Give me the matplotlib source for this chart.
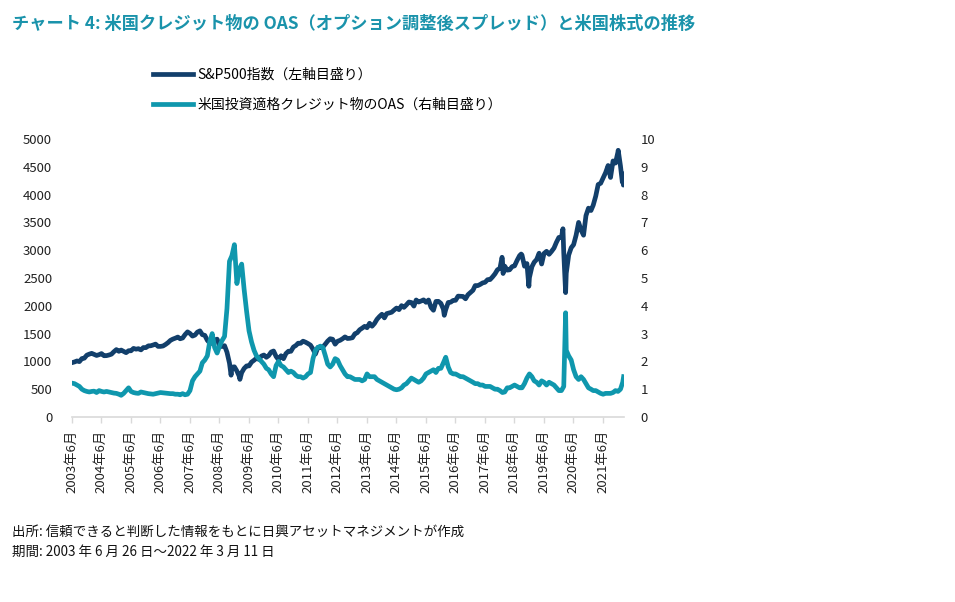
import numpy as np
import pandas as pd
import matplotlib
matplotlib.use("Agg")
import matplotlib.pyplot as plt

plt.rcParams['font.family'] = ['Noto Sans CJK JP', 'DejaVu Sans']

# S&P500 month-end values, Jul 2003 - Feb 2022
spx_monthly = [
    990, 1008, 996, 1051, 1058, 1112,                                   # 2003
    1131, 1145, 1126, 1107, 1121, 1141, 1102, 1104, 1115, 1130, 1174, 1212,  # 2004
    1181, 1204, 1181, 1157, 1192, 1191, 1234, 1220, 1229, 1207, 1249, 1248,  # 2005
    1280, 1281, 1295, 1311, 1270, 1270, 1277, 1304, 1336, 1378, 1401, 1418,  # 2006
    1438, 1407, 1421, 1482, 1531, 1503, 1455, 1474, 1527, 1549, 1481, 1468,  # 2007
    1379, 1331, 1323, 1386, 1400, 1280, 1267, 1283, 1166, 969, 896, 903,     # 2008
    826, 735, 798, 873, 919, 919, 987, 1021, 1057, 1036, 1096, 1115,         # 2009
    1074, 1104, 1169, 1187, 1089, 1031, 1102, 1049, 1141, 1183, 1181, 1258,  # 2010
    1286, 1327, 1326, 1364, 1345, 1321, 1292, 1219, 1131, 1253, 1247, 1258,  # 2011
    1312, 1366, 1408, 1398, 1310, 1362, 1379, 1407, 1441, 1412, 1416, 1426,  # 2012
    1498, 1515, 1569, 1598, 1631, 1606, 1686, 1633, 1682, 1757, 1806, 1848,  # 2013
    1783, 1859, 1872, 1884, 1924, 1960, 1931, 2003, 1972, 2018, 2068, 2059,  # 2014
    1995, 2105, 2068, 2086, 2107, 2063, 2104, 1972, 1920, 2079, 2080, 2044,  # 2015
    1940, 1932, 2060, 2065, 2097, 2099, 2174, 2171, 2168, 2126, 2199, 2239,  # 2016
    2279, 2364, 2363, 2384, 2412, 2423, 2470, 2472, 2519, 2575, 2648, 2674,  # 2017
    2824, 2714, 2641, 2648, 2705, 2718, 2816, 2902, 2914, 2712, 2760, 2507,  # 2018
    2704, 2784, 2834, 2946, 2752, 2942, 2980, 2926, 2977, 3038, 3141, 3231,  # 2019
    3226, 2954, 2585, 2912, 3044, 3100, 3271, 3500, 3363, 3270, 3622, 3756,  # 2020
    3714, 3811, 3973, 4181, 4204, 4298, 4395, 4523, 4308, 4605, 4567, 4766,  # 2021
    4516, 4374,                                                             # 2022
]
# intra-month highs / lows and the end points
spx_extra = {
    "2003-06-26": 976, "2008-11-20": 752, "2009-03-09": 677,
    "2016-02-11": 1829, "2018-01-26": 2873, "2018-02-08": 2581,
    "2018-09-20": 2931, "2018-12-24": 2351, "2020-02-19": 3386,
    "2020-03-23": 2237, "2022-01-03": 4797, "2022-02-23": 4225,
    "2022-03-08": 4171, "2022-03-11": 4204,
}

# US investment grade OAS (%), month-end, Jul 2003 - Feb 2022
oas_monthly = [
    1.20, 1.15, 1.10, 1.00, 0.95, 0.92,                                      # 2003
    0.90, 0.92, 0.93, 0.88, 0.95, 0.92, 0.90, 0.92, 0.90, 0.88, 0.86, 0.85,  # 2004
    0.82, 0.78, 0.85, 0.95, 1.05, 0.92, 0.88, 0.86, 0.85, 0.90, 0.88, 0.86,  # 2005
    0.84, 0.83, 0.82, 0.84, 0.86, 0.88, 0.87, 0.86, 0.85, 0.84, 0.84, 0.82,  # 2006
    0.82, 0.80, 0.84, 0.80, 0.82, 0.95, 1.30, 1.45, 1.55, 1.65, 1.95, 2.05,  # 2007
    2.20, 2.70, 3.00, 2.50, 2.30, 2.55, 2.75, 2.90, 3.90, 5.60, 5.80, 6.20,  # 2008
    4.80, 5.30, 5.50, 4.60, 3.80, 3.10, 2.70, 2.40, 2.20, 2.10, 2.00, 1.90,  # 2009
    1.75, 1.70, 1.55, 1.45, 1.85, 2.00, 1.85, 1.80, 1.70, 1.60, 1.65, 1.60,  # 2010
    1.50, 1.45, 1.45, 1.40, 1.45, 1.55, 1.60, 2.10, 2.40, 2.50, 2.55, 2.50,  # 2011
    2.20, 1.90, 1.80, 1.90, 2.10, 2.05, 1.85, 1.70, 1.55, 1.45, 1.45, 1.40,  # 2012
    1.35, 1.35, 1.35, 1.30, 1.35, 1.55, 1.45, 1.45, 1.45, 1.35, 1.30, 1.25,  # 2013
    1.20, 1.15, 1.10, 1.05, 1.00, 0.98, 1.00, 1.05, 1.15, 1.20, 1.30, 1.40,  # 2014
    1.35, 1.30, 1.25, 1.30, 1.40, 1.55, 1.60, 1.65, 1.70, 1.60, 1.75, 1.75,  # 2015
    1.95, 2.15, 1.80, 1.60, 1.55, 1.55, 1.50, 1.45, 1.45, 1.40, 1.35, 1.30,  # 2016
    1.25, 1.20, 1.20, 1.15, 1.15, 1.10, 1.10, 1.10, 1.05, 1.00, 1.00, 0.95,  # 2017
    0.88, 0.90, 1.05, 1.05, 1.10, 1.15, 1.10, 1.05, 1.05, 1.20, 1.40, 1.55,  # 2018
    1.45, 1.30, 1.25, 1.15, 1.30, 1.25, 1.15, 1.25, 1.20, 1.15, 1.05, 0.95,  # 2019
    0.95, 1.10, 2.40, 2.20, 2.05, 1.70, 1.45, 1.35, 1.45, 1.35, 1.20, 1.05,  # 2020
    1.00, 0.95, 0.95, 0.90, 0.85, 0.82, 0.85, 0.85, 0.85, 0.88, 0.95, 0.92,  # 2021
    1.00, 1.25,                                                              # 2022
]
oas_extra = {
    "2003-06-26": 1.22, "2020-03-23": 3.75, "2022-03-11": 1.45,
}

tick_years = list(range(2003, 2022))

navy = "#123f6b"
teal = "#0f97ad"

month_ends = pd.date_range("2003-07-01", "2022-02-28", freq="ME")

spx = pd.Series(spx_monthly, index=month_ends)
spx = pd.concat([spx, pd.Series(spx_extra).rename(index=pd.Timestamp)]).sort_index()
oas = pd.Series(oas_monthly, index=month_ends)
oas = pd.concat([oas, pd.Series(oas_extra).rename(index=pd.Timestamp)]).sort_index()

fig = plt.figure(figsize=(9.55, 6.02), dpi=100)
ax = fig.add_axes([0.075, 0.3073, 0.578, 0.4618])
ax2 = ax.twinx()

l1, = ax.plot(spx.index, spx.values, color=navy, lw=3.4, solid_joinstyle="round")
l2, = ax2.plot(oas.index, oas.values, color=teal, lw=3.4, solid_joinstyle="round")

ax.set_ylim(0, 5000)
ax.set_yticks(np.arange(0, 5001, 500))
ax2.set_ylim(0, 10)
ax2.set_yticks(np.arange(0, 11, 1))
ax.set_xlim(pd.Timestamp("2003-06-26"), pd.Timestamp("2022-03-11"))

ticks = [pd.Timestamp(f"{y}-06-26") for y in tick_years]
ax.set_xticks(ticks)
ax.set_xticklabels([f"{y}年6月" for y in tick_years], rotation=90, fontsize=9.5, color="#222222")

for a in (ax, ax2):
    for s in ["top", "left", "right"]:
        a.spines[s].set_visible(False)
    a.spines["bottom"].set_color("#d9d9d9")
    a.spines["bottom"].set_linewidth(1.2)
ax2.spines["bottom"].set_visible(False)

ax.tick_params(axis="x", length=4, color="#d9d9d9", width=1, pad=5)
ax.tick_params(axis="y", length=0, labelsize=9.5, labelcolor="#222222", pad=14)
ax2.tick_params(axis="y", length=0, labelsize=9.5, labelcolor="#222222", pad=12)

fig.text(0.0126, 0.96, "チャート 4: 米国クレジット物の OAS（オプション調整後スプレッド）と米国株式の推移",
         color="#1a93ab", fontsize=12.4, fontweight="bold", va="center", ha="left")

fig.legend([l1, l2], ["S&P500指数（左軸目盛り）", "米国投資適格クレジット物のOAS（右軸目盛り）"],
           loc="upper left", bbox_to_anchor=(0.16, 0.887), frameon=False, fontsize=10,
           handlelength=2.9, handletextpad=0.3, labelspacing=1.15, borderpad=0, borderaxespad=0)

fig.text(0.0126, 1 - 531.5 / 602, "出所: 信頼できると判断した情報をもとに日興アセットマネジメントが作成",
         fontsize=9.7, va="center", ha="left", color="#111111")
fig.text(0.0126, 1 - 552 / 602, "期間: 2003 年 6 月 26 日～2022 年 3 月 11 日",
         fontsize=9.7, va="center", ha="left", color="#111111")

fig.savefig("out.png", dpi=100)
